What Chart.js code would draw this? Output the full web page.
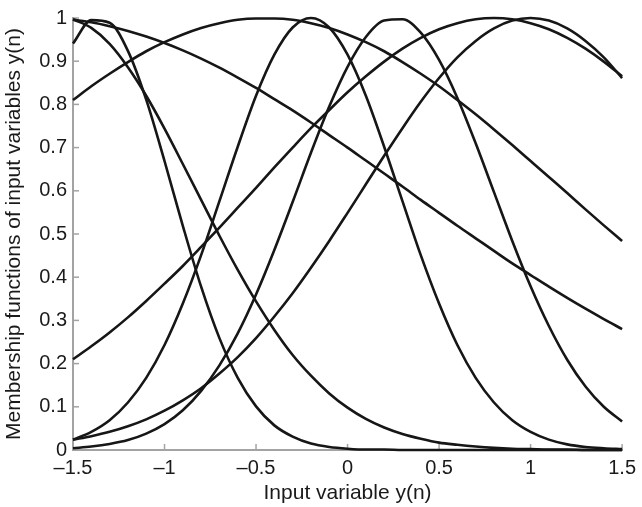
<!DOCTYPE html>
<html>
<head>
<meta charset="utf-8">
<script src="https://cdn.jsdelivr.net/npm/chart.js@4.4.1/dist/chart.umd.min.js"></script>
<style>
html,body{margin:0;padding:0;background:#fff;}
#wrap{width:642px;height:507px;}
</style>
</head>
<body>
<div id="wrap"><canvas id="c" width="642" height="507"></canvas></div>
<script>
// Sample positions along the input axis
const xValues = [-1.5,-1.4,-1.3,-1.2,-1.1,-1.0,-0.9,-0.8,-0.7,-0.6,-0.5,-0.4,-0.3,-0.2,-0.1,0,0.1,0.2,0.3,0.4,0.5,0.6,0.7,0.8,0.9,1.0,1.1,1.2,1.3,1.4,1.5];

// Membership functions
const mfA = [0.996,0.990,0.981,0.970,0.957,0.942,0.925,0.906,0.885,0.862,0.838,0.812,0.786,0.758,0.729,0.700,0.670,0.640,0.610,0.579,0.549,0.519,0.490,0.461,0.432,0.405,0.378,0.352,0.327,0.303,0.280];
const mfB = [0.810,0.842,0.871,0.898,0.923,0.944,0.962,0.977,0.988,0.996,0.999,0.999,0.996,0.988,0.977,0.962,0.944,0.923,0.898,0.871,0.842,0.810,0.777,0.742,0.706,0.669,0.632,0.595,0.557,0.520,0.484];
const mfC = [0.941,0.995,0.989,0.924,0.811,0.669,0.519,0.378,0.259,0.167,0.101,0.057,0.031,0.015,0.007,0.003,0.001,0.001,0,0,0,0,0,0,0,0,0,0,0,0,0];
const mfD = [0.997,0.977,0.940,0.886,0.820,0.744,0.662,0.579,0.496,0.417,0.344,0.278,0.220,0.172,0.131,0.098,0.072,0.052,0.037,0.026,0.017,0.012,0.008,0.005,0.003,0.002,0.001,0.001,0,0,0];
const mfE = [0.024,0.042,0.069,0.110,0.167,0.243,0.339,0.451,0.576,0.702,0.820,0.915,0.978,1.000,0.978,0.915,0.820,0.702,0.576,0.451,0.339,0.243,0.167,0.110,0.069,0.042,0.024,0.013,0.007,0.004,0.002];
const mfF = [0.004,0.008,0.014,0.023,0.038,0.060,0.092,0.137,0.196,0.270,0.360,0.463,0.574,0.688,0.795,0.887,0.956,0.994,0.997,0.966,0.903,0.815,0.710,0.597,0.484,0.379,0.287,0.209,0.147,0.100,0.066];
const mfG = [0.210,0.240,0.272,0.307,0.345,0.385,0.426,0.470,0.515,0.561,0.607,0.654,0.700,0.745,0.787,0.828,0.865,0.899,0.929,0.954,0.974,0.988,0.997,1.000,0.997,0.988,0.974,0.954,0.929,0.899,0.865];
const mfH = [0.024,0.032,0.042,0.055,0.071,0.091,0.115,0.143,0.177,0.215,0.259,0.309,0.363,0.422,0.484,0.549,0.615,0.681,0.745,0.806,0.861,0.909,0.947,0.976,0.994,1.000,0.994,0.976,0.947,0.909,0.861];

const xTickValues = [-1.5,-1,-0.5,0,0.5,1,1.5];
const yTickValues = [0,0.1,0.2,0.3,0.4,0.5,0.6,0.7,0.8,0.9,1];
const xTitle = 'Input variable y(n)';
const yTitle = 'Membership functions of input variables y(n)';

const allSeries = [mfA, mfB, mfC, mfD, mfE, mfF, mfG, mfH];
const FONT = "'Liberation Sans', Arial, Helvetica, sans-serif";
const AXIS_COLOR = '#a3a3a3';

const datasets = allSeries.map(s => ({
  data: s.map((v, i) => ({x: xValues[i], y: v})),
  borderColor: '#161616',
  borderWidth: 2.6,
  pointRadius: 0,
  fill: false,
  cubicInterpolationMode: 'monotone',
  clip: 4
}));

const innerTicks = {
  id: 'innerTicks',
  beforeDatasetsDraw(chart) {
    const {ctx, chartArea: a} = chart;
    const sx = chart.scales.x, sy = chart.scales.y;
    ctx.save();
    ctx.strokeStyle = AXIS_COLOR;
    ctx.lineWidth = 1.5;
    xTickValues.forEach(v => {
      const px = sx.getPixelForValue(v);
      ctx.beginPath(); ctx.moveTo(px, a.bottom); ctx.lineTo(px, a.bottom - 6); ctx.stroke();
    });
    yTickValues.forEach(v => {
      const py = sy.getPixelForValue(v);
      ctx.beginPath(); ctx.moveTo(a.left, py); ctx.lineTo(a.left + 6, py); ctx.stroke();
    });
    ctx.restore();
  }
};

new Chart(document.getElementById('c'), {
  type: 'line',
  data: { datasets },
  plugins: [innerTicks],
  options: {
    responsive: false,
    animation: false,
    devicePixelRatio: 1,
    layout: { padding: { left: 0, top: 15, right: 16, bottom: 0 } },
    plugins: { legend: { display: false }, tooltip: { enabled: false } },
    scales: {
      x: {
        type: 'linear',
        min: -1.5, max: 1.5,
        afterBuildTicks: s => { s.ticks = xTickValues.map(v => ({value: v})); },
        afterFit: s => { s.height = 57; },
        ticks: {
          padding: 6,
          color: '#1a1a1a',
          font: { size: 20, family: FONT },
          maxRotation: 0,
          autoSkip: false,
          callback: v => v < 0 ? '\u2013' + Math.abs(v) : String(v)
        },
        grid: { display: true, drawOnChartArea: false, drawTicks: false, color: 'rgba(0,0,0,0)' },
        border: { display: true, color: AXIS_COLOR, width: 2 },
        title: { display: true, text: xTitle, color: '#1a1a1a', font: { size: 21, family: FONT }, padding: { top: 0, bottom: 1 } }
      },
      y: {
        type: 'linear',
        min: 0, max: 1,
        afterBuildTicks: s => { s.ticks = yTickValues.map(v => ({value: v})); },
        afterFit: s => { s.width = 73; },
        ticks: {
          padding: 6,
          color: '#1a1a1a',
          font: { size: 20, family: FONT },
          callback: v => String(Math.round(v * 10) / 10)
        },
        grid: { display: true, drawOnChartArea: false, drawTicks: false, color: 'rgba(0,0,0,0)' },
        border: { display: true, color: AXIS_COLOR, width: 2 },
        title: { display: true, text: yTitle, color: '#1a1a1a', font: { size: 21, family: FONT }, padding: { top: 2, bottom: 0 } }
      }
    }
  }
});
</script>
</body>
</html>
